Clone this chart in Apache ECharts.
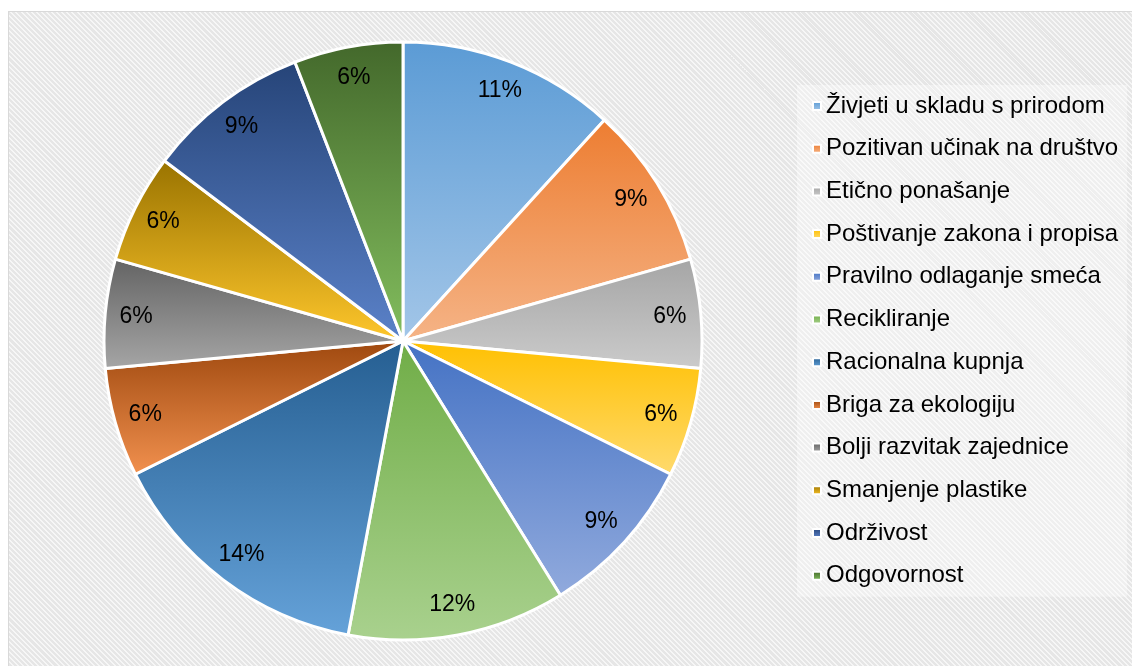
<!DOCTYPE html>
<html>
<head>
<meta charset="utf-8">
<script src="https://cdn.jsdelivr.net/npm/echarts@6/dist/echarts.min.js"></script>
<style>
html,body{margin:0;padding:0;background:#fff;width:1132px;height:666px;overflow:hidden;}
#bg{position:absolute;left:8px;top:11px;width:1130px;height:660px;box-sizing:border-box;border-left:1px solid #d9d9d9;border-top:1px solid #d9d9d9;
background:repeating-linear-gradient(45deg,#e6e6e6 0px,#e6e6e6 2.2px,#f6f6f6 2.2px,#f6f6f6 3.6px);}
#chart{position:absolute;left:0;top:0;width:1132px;height:666px;}
</style>
</head>
<body>
<div id="bg"></div>
<div id="chart"></div>
<script>
const categories = [
  "Živjeti u skladu s prirodom",
  "Pozitivan učinak na društvo",
  "Etično ponašanje",
  "Poštivanje zakona i propisa",
  "Pravilno odlaganje smeća",
  "Recikliranje",
  "Racionalna kupnja",
  "Briga za ekologiju",
  "Bolji razvitak zajednice",
  "Smanjenje plastike",
  "Održivost",
  "Odgovornost"
];
const values = [4, 3, 2, 2, 3, 4, 5, 2, 2, 2, 3, 2];
const percentLabels = ["11%", "9%", "6%", "6%", "9%", "12%", "14%", "6%", "6%", "6%", "9%", "6%"];
const topColors = ["#5B9BD5","#ED7D31","#A5A5A5","#FFC000","#4472C4","#70AD47","#255E91","#9E480E","#636363","#997300","#264478","#43682B"];
const bottomColors = ["#A3C6E8","#F5B487","#CBCBCB","#FFDA6E","#91AADD","#A9D18E","#65A2D9","#F2914F","#A6A6A6","#FFC72C","#5B82C9","#83BE5E"];

const chart = echarts.init(document.getElementById('chart'), null, {renderer: 'canvas'});
const center = [403, 341];
const R = 299;
const FONT = 'Liberation Sans, Arial, sans-serif';

const mainData = categories.map((name, i) => ({
  name: name,
  value: values[i],
  itemStyle: {
    color: new echarts.graphic.LinearGradient(0, 0, 0, 1, [
      {offset: 0, color: topColors[i]},
      {offset: 1, color: bottomColors[i]}
    ])
  }
}));
const labelData = categories.map((name, i) => ({name: name, value: values[i], label: {formatter: percentLabels[i]}}));

chart.setOption({
  backgroundColor: 'transparent',
  animation: false,
  legend: {
    orient: 'vertical',
    left: 797,
    top: 85,
    padding: [9, 9, 9, 15],
    backgroundColor: 'rgba(255,255,255,0.35)',
    icon: 'rect',
    itemWidth: 8,
    itemHeight: 8,
    itemGap: 18.7,
    data: categories,
    textStyle: {fontFamily: FONT, fontSize: 24, color: '#000', lineHeight: 24}
  },
  series: [
    {
      type: 'pie',
      center: center,
      radius: [0, R],
      startAngle: 90,
      clockwise: true,
      silent: true,
      itemStyle: {borderColor: '#fff', borderWidth: 3},
      label: {show: false},
      labelLine: {show: false},
      data: mainData
    },
    {
      type: 'pie',
      center: center,
      radius: [234, 296],
      startAngle: 90,
      clockwise: true,
      silent: true,
      legendHoverLink: false,
      itemStyle: {color: 'rgba(0,0,0,0)', borderWidth: 0},
      label: {show: true, position: 'inside', color: '#000', fontFamily: FONT, fontSize: 23},
      labelLine: {show: false},
      data: labelData
    }
  ]
});
</script>
</body>
</html>
